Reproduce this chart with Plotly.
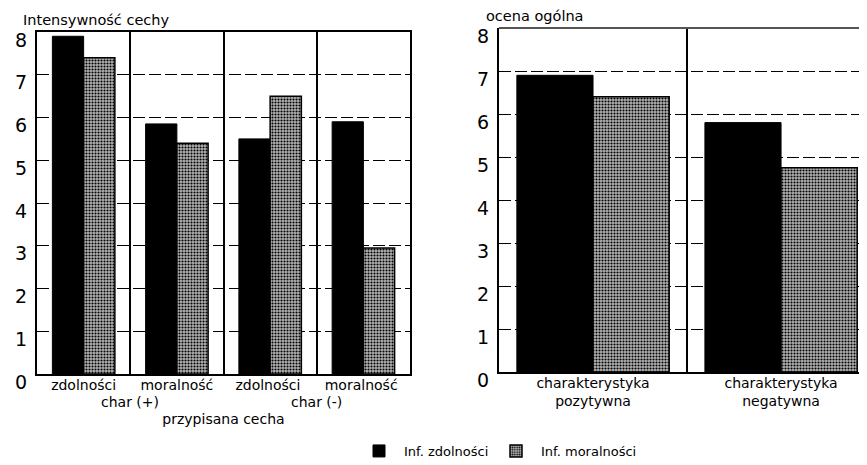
import plotly.graph_objects as go

# ---- data ----
left_categories = ["zdolności", "moralność", "zdolności ", "moralność "]
left_inf_zdolnosci = [7.9, 5.85, 5.5, 5.9]
left_inf_moralnosci = [7.4, 5.4, 6.5, 2.95]
group_labels = ["char (+)", "char (-)"]
group_positions = [0.5, 2.5]

right_categories = ["charakterystyka<br>pozytywna", "charakterystyka<br>negatywna"]
right_inf_zdolnosci = [6.9, 5.8]
right_inf_moralnosci = [6.4, 4.75]

y_ticks = [0, 1, 2, 3, 4, 5, 6, 7, 8]
series_names = ["Inf. zdolności", "Inf. moralności"]

FONT = "DejaVu Sans"
GRAY_PATTERN = dict(shape=".", fgcolor="#000000", bgcolor="#b4b4b4", size=3, solidity=0.4, fillmode="replace")

fig = go.Figure()

# left chart
wl = 0.335
fig.add_trace(go.Bar(x=left_categories, y=left_inf_zdolnosci, name=series_names[0],
                     marker=dict(color="#000000", line=dict(color="#000000", width=1)),
                     width=wl, offset=-wl, xaxis="x", yaxis="y", legend="legend", legendgroup="a"))
fig.add_trace(go.Bar(x=left_categories, y=left_inf_moralnosci, name=series_names[1],
                     marker=dict(color="#9a9a9a", pattern=GRAY_PATTERN, line=dict(color="#000000", width=1.5)),
                     width=wl, offset=0, xaxis="x", yaxis="y", legend="legend2", legendgroup="b"))
# right chart
wr = 0.405
fig.add_trace(go.Bar(x=right_categories, y=right_inf_zdolnosci, name=series_names[0],
                     marker=dict(color="#000000", line=dict(color="#000000", width=1)),
                     width=wr, offset=-wr, xaxis="x2", yaxis="y2", showlegend=False, legendgroup="a"))
fig.add_trace(go.Bar(x=right_categories, y=right_inf_moralnosci, name=series_names[1],
                     marker=dict(color="#9a9a9a", pattern=GRAY_PATTERN, line=dict(color="#000000", width=1.5)),
                     width=wr, offset=0, xaxis="x2", yaxis="y2", showlegend=False, legendgroup="b"))

# page body has an 8px margin; work in screen pixels and compensate
OFF = 8
W, H = 867 - OFF, 465 - OFF
def px_x(p): return (p - OFF) / W
def px_y(p): return 1 - (p - OFF) / H

yaxis_common = dict(range=[0, 8], tickvals=y_ticks, ticks="", showline=True, linecolor="#000000",
                    linewidth=2, showgrid=True, gridcolor="#000000", gridwidth=1.3, griddash="12px,4px",
                    zeroline=False, tickfont=dict(family=FONT, size=19, color="#000000"),
                    ticklabelshift=8, ticklabelstandoff=4)
xaxis_common = dict(type="category", tickson="boundaries", ticks="", showline=True, linecolor="#000000",
                    linewidth=2, showgrid=True, gridcolor="#000000", gridwidth=1.5,
                    tickfont=dict(family=FONT, size=14, color="#000000"))

legend_common = dict(orientation="h", xanchor="left", yanchor="top",
                     font=dict(family=FONT, size=13, color="#000000"), itemwidth=40,
                     bgcolor="rgba(0,0,0,0)")

fig.update_layout(
    width=W, height=H,
    margin=dict(l=0, r=0, t=0, b=0, autoexpand=False),
    paper_bgcolor="#ffffff", plot_bgcolor="#ffffff",
    barmode="overlay",
    xaxis=dict(**xaxis_common, domain=[px_x(37), px_x(410)], anchor="y", mirror=True,
               range=[-0.5, 3.5], ticklabelstandoff=-3,
               title=dict(text="przypisana cecha", font=dict(family=FONT, size=14, color="#000000"), standoff=22)),
    yaxis=dict(**yaxis_common, domain=[px_y(374), px_y(32)], anchor="x", mirror=True),
    xaxis2=dict(**xaxis_common, domain=[px_x(499), 1.0], anchor="y2", mirror=False,
                range=[-0.5, 1.457], ticklabelstandoff=-3),
    yaxis2=dict(**yaxis_common, domain=[px_y(372), px_y(28)], anchor="x2", mirror=False),
    legend=dict(**legend_common, x=px_x(354), y=px_y(436)),
    legend2=dict(**legend_common, x=px_x(491), y=px_y(436)),
    showlegend=True,
)

# top line for right chart
fig.add_shape(type="line", xref="x2 domain", yref="y2 domain", x0=0, x1=1, y0=1, y1=1,
              line=dict(color="#555555", width=2))

annotations = [
    dict(text="Intensywność cechy", xref="paper", yref="paper", x=px_x(21), y=px_y(20),
         xanchor="left", yanchor="middle", showarrow=False, font=dict(family=FONT, size=14.5, color="#000000")),
    dict(text="ocena ogólna", xref="paper", yref="paper", x=px_x(484), y=px_y(16),
         xanchor="left", yanchor="middle", showarrow=False, font=dict(family=FONT, size=14.5, color="#000000")),
]
for lbl, pos in zip(group_labels, group_positions):
    annotations.append(dict(text=lbl, xref="x", yref="paper", x=pos, y=px_y(402),
                            xanchor="center", yanchor="middle", showarrow=False,
                            font=dict(family=FONT, size=14, color="#000000")))
fig.update_layout(annotations=annotations)

fig.write_html("out.html")
